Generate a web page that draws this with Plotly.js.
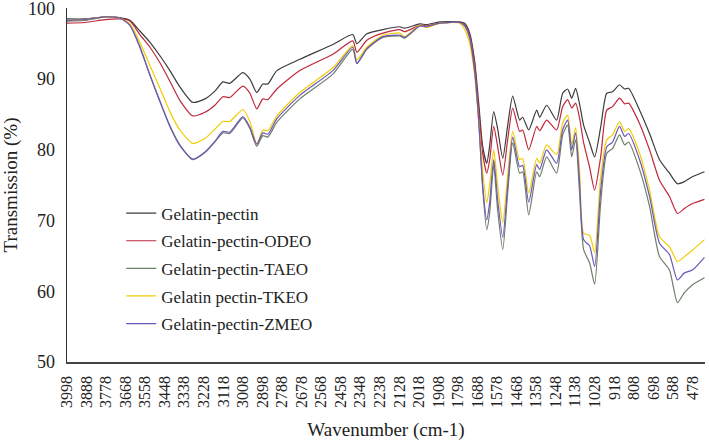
<!DOCTYPE html>
<html>
<head>
<meta charset="utf-8">
<script src="https://cdn.plot.ly/plotly-3.0.1.min.js"></script>
<style>html,body{margin:0;padding:0;background:#fff;}#chart{width:709px;height:442px;}</style>
</head>
<body>
<div id="chart"></div>
<script>
const wavenumber = [3998,3897,3784,3700,3644,3588,3531,3475,3419,3363,3290,3222,3166,3121,3082,3008,2969,2930,2896,2868,2817,2688,2502,2390,2367,2311,2221,2126,2098,2013,1974,1901,1788,1760,1732,1704,1681,1659,1636,1620,1597,1575,1546,1518,1490,1451,1434,1400,1355,1338,1299,1243,1209,1181,1158,1136,1114,1091,1057,1029,995,961,928,889,860,838,776,720,664,608,563,524,479,411];

const gelatinPectin = [98.5,98.5,98.8,98.7,98.3,96.8,95.2,93.3,91.2,88.9,86.7,87.2,88.3,89.6,89.4,90.9,90.0,88.1,89.3,89.3,91.2,92.8,94.9,96.3,95.0,96.4,97.0,97.4,97.2,97.8,97.7,98.1,98.1,97.9,96.5,92.5,86.5,80.5,78.1,80.5,85.4,83.0,78.8,83.5,87.6,84.2,84.6,82.8,85.6,84.6,86.3,84.2,88.0,88.6,87.3,88.7,86.5,83.5,81.0,79.0,83.2,88.0,88.2,89.2,88.6,88.7,85.6,82.3,78.6,76.7,75.2,75.5,76.2,76.9];

const odeo = [97.9,98.0,98.4,98.5,98.2,96.3,94.5,92.3,89.7,87.0,84.8,85.3,86.3,87.5,87.4,89.0,88.0,85.8,87.2,87.1,88.6,91.2,93.5,95.4,93.8,95.5,96.5,97.0,96.7,97.6,97.5,97.9,98.0,97.7,96.2,92.0,85.5,79.5,76.7,78.5,83.3,80.5,76.4,81.5,85.9,82.6,82.8,80.0,83.3,82.7,84.2,82.8,86.1,87.1,85.9,86.6,84.5,81.0,77.5,74.3,79.0,85.6,86.1,87.3,86.5,86.6,83.7,80.0,75.7,73.4,71.0,71.7,72.4,73.0];

const taeo = [98.2,98.3,98.8,98.6,97.7,94.6,90.6,86.9,83.4,80.7,78.6,79.6,81.1,82.4,82.3,84.5,83.0,80.5,82.0,81.8,83.9,87.2,90.7,94.2,92.2,94.2,95.9,96.1,95.8,97.5,97.4,97.9,98.0,97.6,95.9,91.2,84.0,74.5,68.7,71.0,77.9,71.5,65.9,74.0,81.0,76.7,76.9,70.8,76.9,76.2,79.0,76.7,82.1,83.5,79.0,81.4,74.0,65.9,64.0,61.0,72.5,79.5,80.2,82.1,80.7,81.1,77.2,72.0,64.9,63.0,58.4,59.8,60.9,61.9];

const tkeo = [98.3,98.4,98.8,98.6,97.8,95.2,91.9,88.7,85.4,82.8,80.9,81.6,82.9,84.0,84.0,85.7,84.0,80.8,82.8,82.7,84.8,88.1,91.6,94.7,92.7,94.5,96.2,96.5,96.0,97.6,97.3,97.9,97.9,97.0,95.0,90.5,84.0,77.0,72.5,75.0,80.0,75.0,69.7,76.5,82.6,78.6,78.8,73.9,78.8,78.1,80.7,79.3,83.8,84.9,80.7,83.1,77.2,68.2,67.9,65.5,76.2,81.4,82.1,84.0,82.6,83.0,79.5,74.3,67.7,66.3,64.2,64.9,65.8,67.3];

const zmeo = [98.3,98.4,98.8,98.6,97.6,94.5,90.5,86.8,83.3,80.6,78.7,79.7,81.2,82.6,82.5,84.7,83.2,80.8,82.4,82.2,84.4,87.7,91.2,94.5,92.2,94.3,96.0,96.2,95.9,97.5,97.4,97.9,98.0,97.5,95.8,91.0,84.0,75.0,70.1,72.5,78.6,73.0,67.6,75.0,81.8,77.6,77.8,72.6,77.9,77.2,80.0,78.1,82.8,84.2,80.0,82.4,75.5,67.3,66.4,63.5,74.3,80.4,81.1,83.3,81.9,82.3,78.6,73.4,66.8,65.2,61.6,62.6,63.0,64.8];

const seriesNames = ["Gelatin-pectin","Gelatin-pectin-ODEO","Gelatin-pectin-TAEO","Gelatin pectin-TKEO","Gelatin-pectin-ZMEO"];
const seriesColors = ["#3c3c3c","#c0283c","#6e7e68","#f2cc00","#6a58b8"];

const xTickLabels = ["3998","3888","3778","3668","3558","3448","3338","3228","3118","3008","2898","2788","2678","2568","2458","2348","2238","2128","2018","1908","1798","1688","1578","1468","1358","1248","1138","1028","918","808","698","588","478"];
const xTickValues = [3998,3888,3778,3668,3558,3448,3338,3228,3118,3008,2898,2788,2678,2568,2458,2348,2238,2128,2018,1908,1798,1688,1578,1468,1358,1248,1138,1028,918,808,698,588,478];
const yTickValues = [50,60,70,80,90,100];

const allSeries = [gelatinPectin, odeo, taeo, tkeo, zmeo];
const traces = allSeries.map((ys, i) => ({
  x: wavenumber, y: ys, type: 'scatter', mode: 'lines',
  name: seriesNames[i], legendgroup: 'g' + i,
  line: {color: seriesColors[i], width: 1.2, shape: 'spline', smoothing: 0.6}
}));

const fontFam = 'Liberation Serif';
const layout = {
  width: 709, height: 442,
  margin: {l: 67, r: 4, t: 8, b: 80},
  paper_bgcolor: '#fff', plot_bgcolor: '#fff',
  font: {family: fontFam, color: '#222', size: 16},
  showlegend: true,
  legend: {x: 0.085, y: 0.47, xanchor: 'left', yanchor: 'top', bgcolor: 'rgba(0,0,0,0)',
           font: {family: fontFam, size: 17, color: '#222'}, tracegroupgap: 2.5, itemwidth: 30},
  xaxis: {
    range: [3998, 408], autorange: false,
    tickvals: xTickValues, ticktext: xTickLabels, tickangle: -90,
    tickfont: {family: fontFam, size: 16, color: '#222'},
    showgrid: false, zeroline: false, showline: true, linecolor: '#444', linewidth: 1.5,
    ticks: '', ticklabelstandoff: 6, ticklabeloverflow: 'allow',
    title: {text: 'Wavenumber (cm-1)', font: {family: fontFam, size: 19, color: '#222'}, standoff: 16}
  },
  yaxis: {
    range: [50, 100.05], autorange: false, tickmode: 'array', tickvals: yTickValues,
    ticktext: yTickValues.map(String),
    tickfont: {family: fontFam, size: 18, color: '#222'},
    showgrid: false, zeroline: false, showline: true, linecolor: '#333', linewidth: 1.5,
    ticks: '', ticklabelstandoff: 7, ticklabeloverflow: 'allow',
    title: {text: 'Transmission (%)', font: {family: fontFam, size: 19, color: '#222'}, standoff: 8}
  }
};

Plotly.newPlot('chart', traces, layout, {staticPlot: true, displayModeBar: false});
</script>
</body>
</html>
